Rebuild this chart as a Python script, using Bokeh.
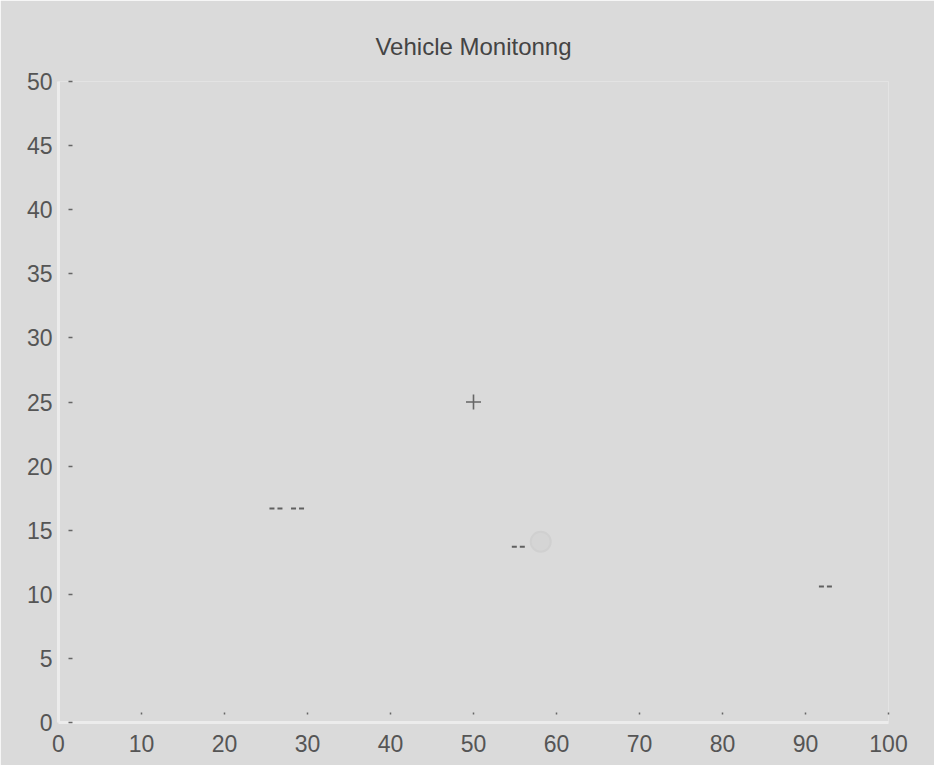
from bokeh.plotting import figure
from bokeh.models import Range1d, FixedTicker
from bokeh.embed import file_html
from bokeh.resources import INLINE

# ---- data ----
title_text = "Vehicle Monitonng"
x_ticks = [0, 10, 20, 30, 40, 50, 60, 70, 80, 90, 100]
y_ticks = [0, 5, 10, 15, 20, 25, 30, 35, 40, 45, 50]

cross_x = [50.0]
cross_y = [25.0]

dash_x = [26.2, 28.8, 55.4, 92.4]
dash_y = [16.7, 16.7, 13.7, 10.6]

ghost_x = [58.1]
ghost_y = [14.1]

BG = "#dadada"
TXT = "#555555"
FONT = "Liberation Sans"

p = figure(
    width=934, height=765,
    x_range=Range1d(0, 100), y_range=Range1d(0, 50),
    output_backend="svg", toolbar_location=None,
    min_border_left=58, min_border_right=46,
    min_border_top=81, min_border_bottom=43,
    background_fill_color=BG, border_fill_color=BG,
    outline_line_color=None,
)

p.title.text = title_text
p.title.text_font = FONT
p.title.text_font_size = "24px"
p.title.text_font_style = "normal"
p.title.text_color = "#444444"
p.title.align = "center"
p.title.standoff = 44

p.grid.visible = False

for ax in (p.xaxis[0], p.yaxis[0]):
    ax.axis_line_color = "#ececec"
    ax.axis_line_width = 3
    ax.minor_tick_line_color = None
    ax.major_tick_out = 0
    ax.major_tick_line_color = "#666666"
    ax.major_tick_line_width = 1.5
    ax.major_label_text_font = FONT
    ax.major_label_text_font_size = "23px"
    ax.major_label_text_color = TXT

p.xaxis.ticker = FixedTicker(ticks=x_ticks)
p.yaxis.ticker = FixedTicker(ticks=y_ticks)
p.xaxis.major_tick_in = 11
p.xaxis.major_tick_line_dash = "0 8 2 20"
p.xaxis.major_label_standoff = 12
p.yaxis.major_tick_in = 15
p.yaxis.major_tick_line_dash = "0 10 4 20"
p.yaxis.major_label_standoff = 6

p.scatter(ghost_x, ghost_y, marker="circle", size=20,
          fill_color="#d5d5d5", line_color="#d0d0d0", line_width=2)
p.scatter(cross_x, cross_y, marker="cross", size=15,
          line_color="#666666", line_width=1.6)
p.scatter(dash_x, dash_y, marker="dash", size=13,
          line_color="#606060", line_width=2, line_dash="5 3")

open("out.html", "w").write(file_html(p, INLINE))
